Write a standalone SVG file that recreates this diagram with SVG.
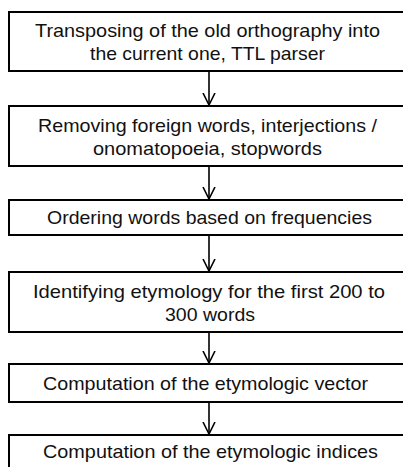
<svg xmlns="http://www.w3.org/2000/svg" width="403" height="467" viewBox="0 0 403 467">
  <style>
    .box { fill: #ffffff; stroke: #000000; stroke-width: 2; }
    .lbl { font-family: "Liberation Sans", Arial, sans-serif; font-size: 19px; fill: #111111; text-anchor: middle; }
    .conn { stroke: #000000; stroke-width: 1.6; fill: none; }
  </style>
  <defs>
    <marker id="arrowV" markerWidth="14" markerHeight="14" refX="12" refY="7" orient="auto" markerUnits="userSpaceOnUse">
      <path d="M0,1 L12,7 L0,13" fill="none" stroke="#000000" stroke-width="1.6"/>
    </marker>
  </defs>
  <rect width="403" height="467" fill="#ffffff"/>

  <g id="step1">
    <rect class="box" x="9" y="12" width="397" height="59"/>
    <text class="lbl" x="207.5" y="37" textLength="345" lengthAdjust="spacingAndGlyphs">Transposing of the old orthography into</text>
    <text class="lbl" x="207.5" y="60" textLength="235" lengthAdjust="spacingAndGlyphs">the current one, TTL parser</text>
  </g>

  <g id="step2">
    <rect class="box" x="9" y="106" width="397" height="60"/>
    <text class="lbl" x="207.5" y="132" textLength="339" lengthAdjust="spacingAndGlyphs">Removing foreign words, interjections /</text>
    <text class="lbl" x="207.5" y="155" textLength="229" lengthAdjust="spacingAndGlyphs">onomatopoeia, stopwords</text>
  </g>

  <g id="step3">
    <rect class="box" x="9" y="200" width="397" height="35"/>
    <text class="lbl" x="209.5" y="224" textLength="325" lengthAdjust="spacingAndGlyphs">Ordering words based on frequencies</text>
  </g>

  <g id="step4">
    <rect class="box" x="9" y="272" width="397" height="60"/>
    <text class="lbl" x="209" y="298" textLength="352" lengthAdjust="spacingAndGlyphs">Identifying etymology for the first 200 to</text>
    <text class="lbl" x="210" y="321" textLength="90" lengthAdjust="spacingAndGlyphs">300 words</text>
  </g>

  <g id="step5">
    <rect class="box" x="9" y="364" width="397" height="38"/>
    <text class="lbl" x="205.5" y="390" textLength="325" lengthAdjust="spacingAndGlyphs">Computation of the etymologic vector</text>
  </g>

  <g id="step6">
    <rect class="box" x="9" y="435" width="397" height="50"/>
    <text class="lbl" x="210.5" y="458" textLength="335" lengthAdjust="spacingAndGlyphs">Computation of the etymologic indices</text>
  </g>

  <g id="connectors">
    <line class="conn" x1="209" y1="72" x2="209" y2="105" marker-end="url(#arrowV)"/>
    <line class="conn" x1="209" y1="167" x2="209" y2="199" marker-end="url(#arrowV)"/>
    <line class="conn" x1="209" y1="236" x2="209" y2="271" marker-end="url(#arrowV)"/>
    <line class="conn" x1="209" y1="333" x2="209" y2="363" marker-end="url(#arrowV)"/>
    <line class="conn" x1="209" y1="403" x2="209" y2="434" marker-end="url(#arrowV)"/>
  </g>
</svg>
